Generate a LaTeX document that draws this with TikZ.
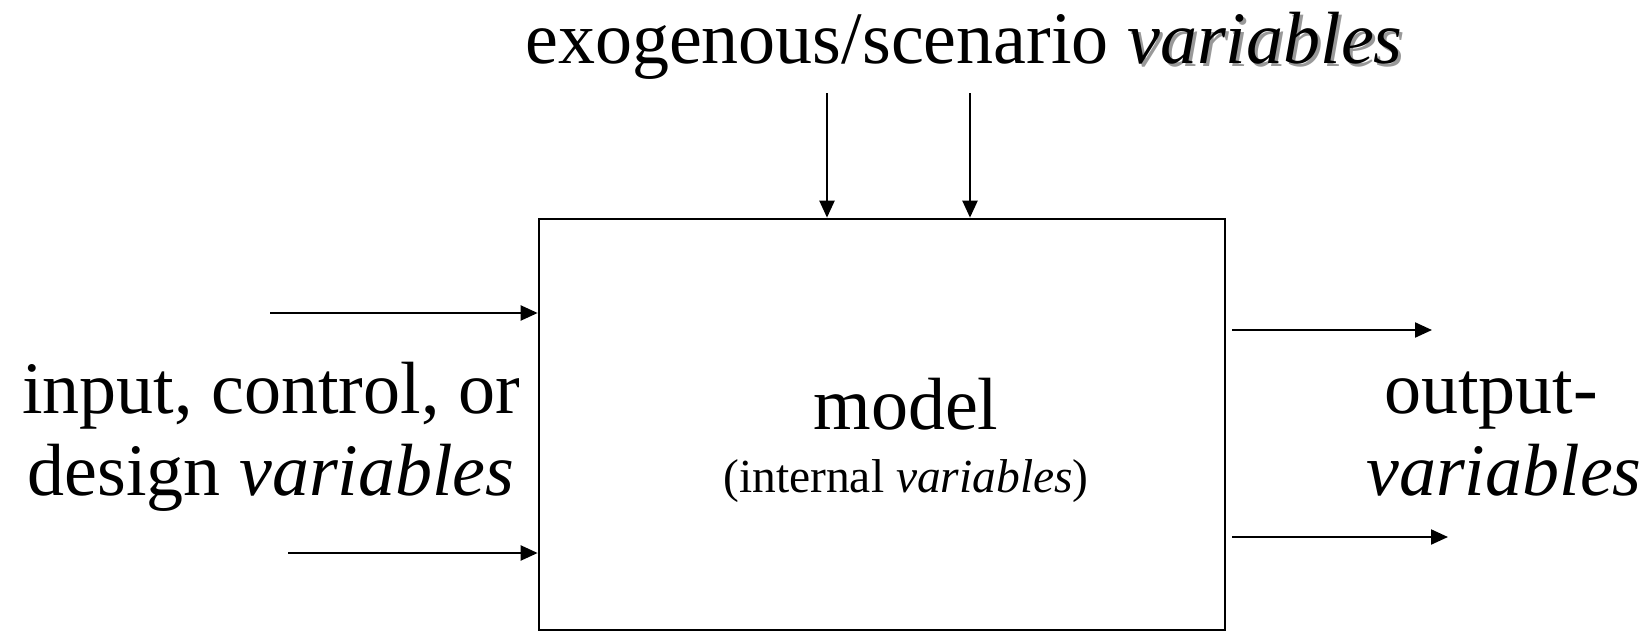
\documentclass[tikz,border=0pt]{standalone}
\usepackage{fontspec}
\setmainfont{Liberation Serif}
\newfontface\itf{Liberation Serif Italic}
\usetikzlibrary{arrows.meta}
\begin{document}
\begin{tikzpicture}[x=1pt,y=-1pt,
  big/.style={font=\fontsize{74}{82}\selectfont, inner sep=0pt, anchor=base},
  small/.style={font=\fontsize{47.5}{52}\selectfont, inner sep=0pt, anchor=base},
  conn/.style={line width=2.2pt, -{Triangle[length=17pt,width=15pt]}},
  modelbox/.style={draw, line width=2.7pt, rectangle, inner sep=0pt}
]
\useasboundingbox (0,0) rectangle (1652,632);
\node[modelbox, minimum width=686pt, minimum height=411pt] (box) at (882,424.5) {};
% texts
\node[big] (top) at (964,63) {exogenous/scenario \rlap{\hspace{3pt}\raisebox{-3pt}{\color{black!40}\itf variables}}{\itf variables}};
\node[big] (in1) at (271,413) {input, control, or};
\node[big] (in2) at (271,495) {design {\itf variables}};
\node[big] (m1) at (906,429) {model};
\node[small] (m2) at (906,492) {(internal {\itf variables})};
\node[big] (o1) at (1491,413) {output-};
\node[big] (o2) at (1504,495) {\itf variables};
% arrow anchors
\coordinate (t1) at (827,93);
\coordinate (t2) at (970,93);
\coordinate (l1) at (270,313);
\coordinate (l2) at (288,553);
\coordinate (r1) at (1232,330);
\coordinate (r2) at (1232,537);
\coordinate (r1e) at (1432,330);
\coordinate (r2e) at (1448,537);
\draw[conn] (t1) -- (t1 |- box.north);
\draw[conn] (t2) -- (t2 |- box.north);
\draw[conn] (l1) -- (l1 -| box.west);
\draw[conn] (l2) -- (l2 -| box.west);
\draw[conn] (r1) -- (r1e);
\draw[conn] (r2) -- (r2e);
\end{tikzpicture}
\end{document}
